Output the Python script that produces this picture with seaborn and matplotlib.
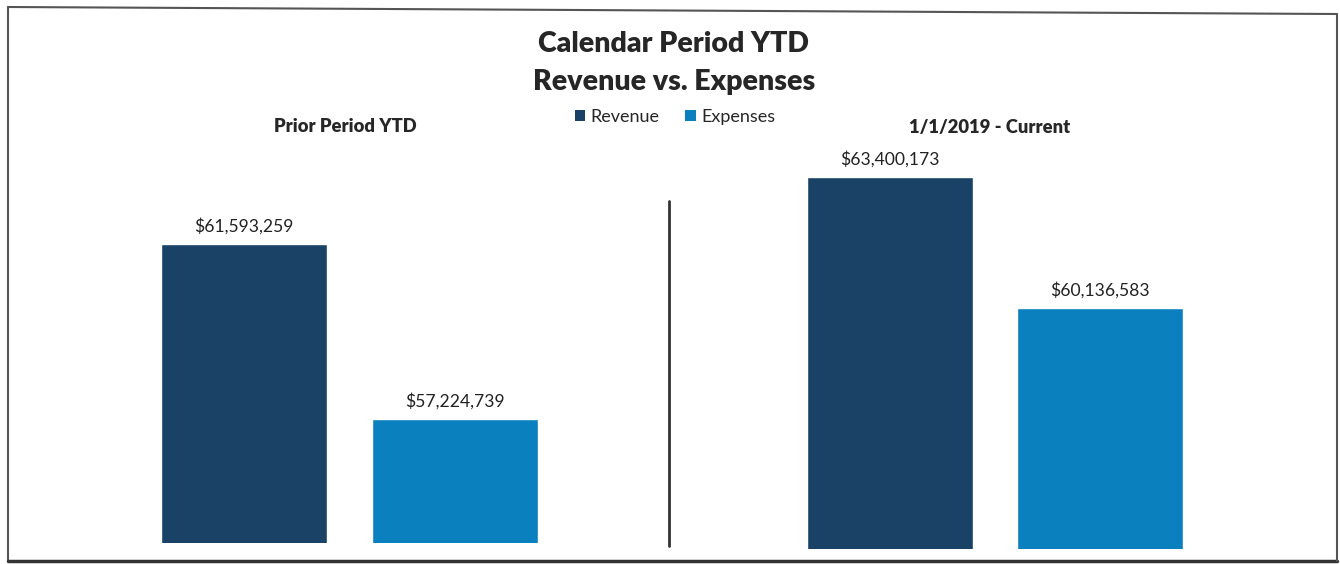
import matplotlib
matplotlib.use("Agg")
import matplotlib.pyplot as plt
from matplotlib.lines import Line2D
from matplotlib.patches import Patch
import pandas as pd
import seaborn as sns

# Data
periods = ["Prior Period YTD", "1/1/2019 - Current"]
series = ["Revenue", "Expenses"]
revenue = [61593259, 63400173]
expenses = [57224739, 60136583]
colors = {"Revenue": "#1a4267", "Expenses": "#0a80be"}

sns.set_theme(style="white")
plt.rcParams["font.family"] = ["Lato", "DejaVu Sans"]

W, H = 1340, 564
fig = plt.figure(figsize=(W / 100, H / 100), dpi=100)
fig.patch.set_facecolor("white")


def px_axes(x0, x1, ytop, ybot):
    return fig.add_axes([x0 / W, (H - ybot) / H, (x1 - x0) / W, (ybot - ytop) / H])


ymin = 54.13e6
ymax = ymin + 393 / 40.1 * 1e6

panels = [
    (periods[0], revenue[0], expenses[0], (139, 560, 150, 543)),
    (periods[1], revenue[1], expenses[1], (785, 1205, 156, 549)),
]

for title, rev, exp, box in panels:
    ax = px_axes(*box)
    df = pd.DataFrame({"Series": series, "Value": [rev, exp]})
    sns.barplot(data=df, x="Series", y="Value", hue="Series", palette=colors,
                width=0.79, legend=False, ax=ax, saturation=1)
    ax.set_ylim(ymin, ymax)
    ax.set_xlim(-0.5, 1.5)
    ax.set_axis_off()
    for i, v in enumerate([rev, exp]):
        ax.annotate(f"${v:,.0f}", (i, v), xytext=(0, 8.8), textcoords="offset points",
                    ha="center", va="baseline", fontsize=12.6, color="#222222")

# Titles
fig.text(674 / W, 1 - 44 / H, "Calendar Period YTD", ha="center", va="center",
         fontsize=20.5, fontweight="heavy", color="#262626")
fig.text(674 / W, 1 - 82 / H, "Revenue vs. Expenses", ha="center", va="center",
         fontsize=20.5, fontweight="heavy", color="#262626")
fig.text(345 / W, 1 - 127 / H, periods[0], ha="center", va="center",
         fontsize=13.2, fontweight="heavy", color="#262626")
fig.text(990 / W, 1 - 128 / H, periods[1], ha="center", va="center",
         fontsize=13.2, fontweight="heavy", color="#262626")

# Legend
handles = [Patch(facecolor=colors[s], edgecolor="none", label=s) for s in series]
fig.legend(handles=handles, loc="center", bbox_to_anchor=(675 / W, 1 - 117 / H),
           ncol=2, frameon=False, fontsize=13, handlelength=0.6, handleheight=0.6,
           handletextpad=0.3, columnspacing=1.4, labelcolor="#262626")

# Divider between the two panels
fig.add_artist(Line2D([669 / W, 669 / W], [1 - 201 / H, 1 - 546 / H],
                      transform=fig.transFigure, color="#333333", lw=2))

# Outer frame
def fline(xs, ys, lw=1.5, c="#555555"):
    fig.add_artist(Line2D([x / W for x in xs], [1 - y / H for y in ys],
                          transform=fig.transFigure, color=c, lw=lw))

fline([8, 1337], [7, 14])
fline([8, 8], [7, 561])
fline([8, 1337], [561, 561], lw=2.5, c="#333333")
fline([1337, 1337], [14, 561])

fig.savefig("out.png", dpi=100, facecolor="white")
